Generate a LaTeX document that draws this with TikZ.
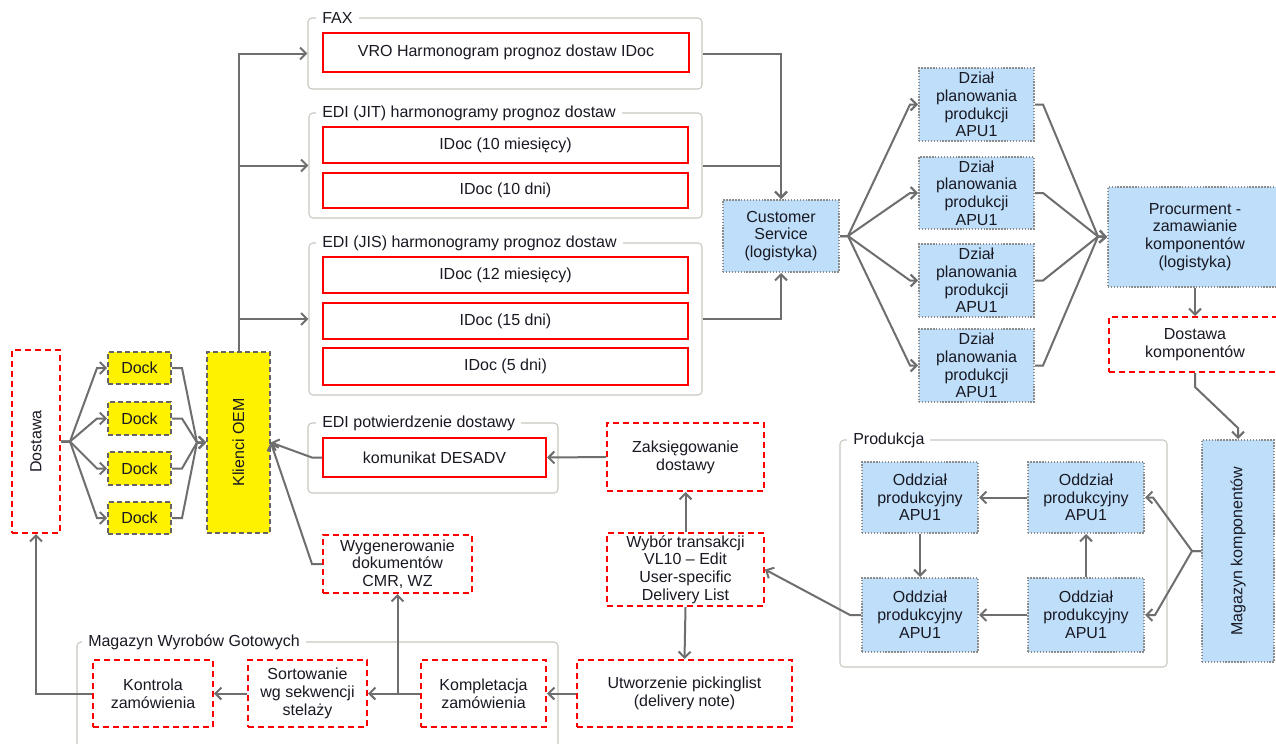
\documentclass[tikz,border=0pt]{standalone}
\usepackage{fontspec}
\setmainfont{Liberation Sans}
\usetikzlibrary{fit,arrows.meta}
\definecolor{bluefill}{RGB}{190,222,250}
\definecolor{dotgray}{RGB}{140,140,140}
\definecolor{yelborder}{RGB}{100,100,100}
\definecolor{conn}{RGB}{110,110,110}
\definecolor{grpline}{RGB}{200,200,192}
\definecolor{txt}{RGB}{25,25,35}
\tikzset{
  txtstyle/.style={inner sep=0pt, align=center, text=txt, font=\fontsize{12}{13.3}\selectfont},
  base/.style={inner sep=0pt},
  redsolid/.style={base, draw=red, line width=1.5pt, fill=white},
  reddash/.style={base, draw=red, line width=1.5pt, dash pattern=on 4.5pt off 3pt, fill=white},
  bluebox/.style={base, draw=dotgray, line width=1.5pt, dash pattern=on 1.1pt off 1.1pt, fill=bluefill},
  yelbox/.style={base, draw=yelborder, line width=1.2pt, dash pattern=on 3.5pt off 2.5pt, fill=yellow},
  txt/.style={label={[txtstyle]center:{#1}}},
  grpbox/.style={inner sep=0pt, draw=grpline, line width=0.8pt, rounded corners=3pt},
  grplabel/.style={anchor=west, fill=white, inner xsep=4.5pt, inner ysep=1pt, text=txt, font=\fontsize{12}{13.3}\selectfont},
  arr/.style={draw=conn, line width=1.5pt, -{Straight Barb[length=4.5pt,width=9pt]}},
}
\begin{document}
\begin{tikzpicture}[x=0.75pt,y=-0.75pt]
\useasboundingbox (0,0) rectangle (1276,743);
\fill[white] (0,0) rectangle (1276,743);
\begin{scope}
\clip (0,0) rectangle (1276,743);
% groups
\node[grpbox, fit={(308,18)(702,89)}] (faxg) {};
\node[grpbox, fit={(309,113)(702,218)}] (jitg) {};
\node[grpbox, fit={(309,243)(702,395)}] (jisg) {};
\node[grpbox, fit={(308,423)(558,493)}] (edig) {};
\node[grpbox, fit={(840,440)(1167,667)}] (prodg) {};
\node[grpbox, fit={(77,642)(558,770)}] (magg) {};
\node[grplabel] (lfax) at (316,18) {FAX};
\node[grplabel] (ljit) at (316,113) {EDI (JIT) harmonogramy prognoz dostaw};
\node[grplabel] (ljis) at (316,243) {EDI (JIS) harmonogramy prognoz dostaw};
\node[grplabel] (ledi) at (316,423) {EDI potwierdzenie dostawy};
\node[grplabel] (lprod) at (847,440) {Produkcja};
\node[grplabel] (lmag) at (82,642) {Magazyn Wyrobów Gotowych};
% red solid
\node[redsolid, fit={(323,33)(689,72)}, txt={VRO Harmonogram prognoz dostaw IDoc}] (vro) {};
\node[redsolid, fit={(323,127)(688,163)}, txt={IDoc (10 miesięcy)}] (jit1) {};
\node[redsolid, fit={(323,173)(688,208)}, txt={IDoc (10 dni)}] (jit2) {};
\node[redsolid, fit={(323,257)(688,293)}, txt={IDoc (12 miesięcy)}] (jis1) {};
\node[redsolid, fit={(323,303)(688,339)}, txt={IDoc (15 dni)}] (jis2) {};
\node[redsolid, fit={(323,348)(688,385)}, txt={IDoc (5 dni)}] (jis3) {};
\node[redsolid, fit={(323,438)(546,477)}, txt={komunikat DESADV}] (desadv) {};
% yellow
\node[yelbox, fit={(108,352)(171,384)}, txt={Dock}] (dock1) {};
\node[yelbox, fit={(108,402)(171,435)}, txt={Dock}] (dock2) {};
\node[yelbox, fit={(108,452)(171,485)}, txt={Dock}] (dock3) {};
\node[yelbox, fit={(108,502)(171,534)}, txt={Dock}] (dock4) {};
\node[yelbox, fit={(207,352)(270,533)}, txt={\rotatebox{90}{Klienci OEM}}] (klienci) {};
% red dashed
\node[reddash, fit={(12,350)(60,533)}, txt={\rotatebox{90}{Dostawa}}] (dostawa) {};
\node[reddash, fit={(1109,317)(1281,372)}, txt={Dostawa\\komponentów}] (dostk) {};
\node[reddash, fit={(607,423)(764,491)}, txt={Zaksięgowanie\\dostawy}] (zaks) {};
\node[reddash, fit={(607,533)(764,606)}, txt={Wybór transakcji\\VL10 – Edit\\User-specific\\Delivery List}] (wybor) {};
\node[reddash, fit={(323,535)(472,593)}, txt={Wygenerowanie\\dokumentów\\CMR, WZ}] (wyg) {};
\node[reddash, fit={(577,660)(792,727)}, txt={Utworzenie pickinglist\\(delivery note)}] (utw) {};
\node[reddash, fit={(421,660)(546,727)}, txt={Kompletacja\\zamówienia}] (kompl) {};
\node[reddash, fit={(248,660)(367,727)}, txt={Sortowanie\\wg sekwencji\\stelaży}] (sort) {};
\node[reddash, fit={(93,660)(213,727)}, txt={Kontrola\\zamówienia}] (kontr) {};
% blue
\node[bluebox, fit={(723,200)(839,272)}, txt={Customer\\Service\\(logistyka)}] (cs) {};
\node[bluebox, fit={(919,68)(1034,141)}, txt={Dział\\planowania\\produkcji\\APU1}] (dz1) {};
\node[bluebox, fit={(919,157)(1034,229)}, txt={Dział\\planowania\\produkcji\\APU1}] (dz2) {};
\node[bluebox, fit={(919,244)(1034,317)}, txt={Dział\\planowania\\produkcji\\APU1}] (dz3) {};
\node[bluebox, fit={(919,329)(1034,402)}, txt={Dział\\planowania\\produkcji\\APU1}] (dz4) {};
\node[bluebox, fit={(1108,187)(1282,287)}, txt={Procurment -\\zamawianie\\komponentów\\(logistyka)}] (proc) {};
\node[bluebox, fit={(1202,440)(1274,662)}, txt={\rotatebox{90}{Magazyn komponentów}}] (magk) {};
\node[bluebox, fit={(862,462)(978,533)}, txt={Oddział\\produkcyjny\\APU1}] (od1) {};
\node[bluebox, fit={(1028,462)(1144,533)}, txt={Oddział\\produkcyjny\\APU1}] (od2) {};
\node[bluebox, fit={(862,578)(978,652)}, txt={Oddział\\produkcyjny\\APU1}] (od3) {};
\node[bluebox, fit={(1028,578)(1144,652)}, txt={Oddział\\produkcyjny\\APU1}] (od4) {};
% coordinates
\coordinate (fk1) at (70,441.5);
\coordinate (mk1) at (197,442.5);
\coordinate (csf) at (848,236);
\coordinate (prf) at (1098,236.5);
\coordinate (mgf) at (1192,551);
% Dostawa -> docks
\foreach \d in {dock1,dock2,dock3,dock4}{
  \draw[arr] (dostawa.east) -- (fk1) -- (97,0 |- \d.west) -- (\d.west);
  \draw[arr] (\d.east) -- (182,0 |- \d.east) -- (mk1) -- (klienci.west);
}
% Klienci -> groups
\draw[arr] (klienci.north) |- (faxg.west);
\draw[arr] (klienci.north) |- (jitg.west);
\draw[arr] (klienci.north) |- (jisg.west);
% groups -> CS
\draw[arr] (faxg.east) -| (cs.north);
\draw[arr] (jitg.east) -| (cs.north);
\draw[arr] (jisg.east) -| (cs.south);
% CS -> dzial -> proc
\foreach \d in {dz1,dz2,dz3,dz4}{
  \draw[arr] (cs.east) -- (csf) -- (910,0 |- \d.west) -- (\d.west);
  \draw[arr] (\d.east) -- (1043,0 |- \d.east) -- (prf) -- (proc.west);
}
\draw[arr] (proc.south -| 1195,0) -- (dostk.north -| 1195,0);
\draw[arr] (dostk.south -| 1195,0) -- (1195,387) -- (1238,428) -- (magk.north);
% magazyn -> produkcja
\draw[arr] (magk.west) -- (mgf) -- (1153,0 |- od2.east) -- (od2.east);
\draw[arr] (magk.west) -- (mgf) -- (1155,0 |- od4.east) -- (od4.east);
\draw[arr] (od2.west) -- (od1.east);
\draw[arr] (od1.south) -- (od3.north);
\draw[arr] (od4.west) -- (od3.east);
\draw[arr] (od4.north) -- (od2.south);
\draw[arr] (od3.west) -- (850,0 |- od3.west) -- (wybor.east);
% wybor
\draw[arr] (wybor.north) -- (zaks.south);
\draw[arr] (wybor.south) -- (utw.north);
\draw[arr] (zaks.west) -- (desadv.east);
\draw[arr] (desadv.west) -- (312,0 |- desadv.west) -- (klienci.east);
\draw[arr] (wyg.west) -- (312,0 |- wyg.west) -- (klienci.east);
% bottom chain
\draw[arr] (utw.west) -- (kompl.east);
\draw[arr] (kompl.west) -- (sort.east);
\draw[arr] (wyg.south |- kompl.west) -- (wyg.south);
\draw[arr] (sort.west) -- (kontr.east);
\draw[arr] (kontr.west) -| (dostawa.south);
\end{scope}
\end{tikzpicture}
\end{document}
